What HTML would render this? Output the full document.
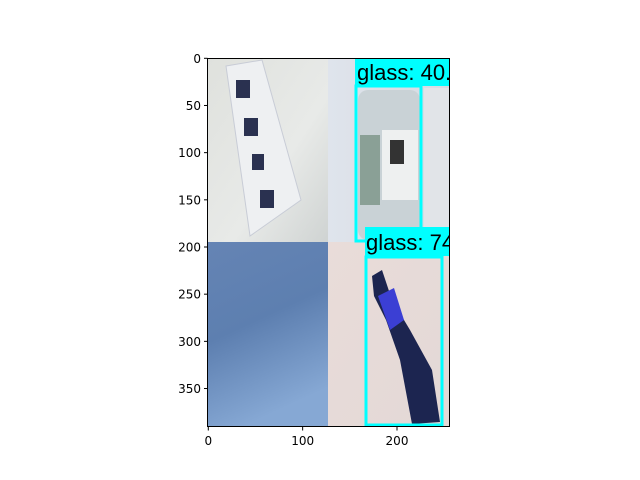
<!DOCTYPE html>
<html><head><meta charset="utf-8"><style>
html,body{margin:0;padding:0;background:#fff;}
svg{display:block;font-family:"DejaVu Sans","Liberation Sans",sans-serif;}
.lbl{font-family:"Liberation Sans",Arial,sans-serif;}
</style></head><body>
<svg width="640" height="480" viewBox="0 0 640 480">
<defs>
<clipPath id="ax"><rect x="208" y="58" width="241.5" height="368.5"/></clipPath>
<linearGradient id="gTL" x1="0" y1="0" x2="1" y2="1"><stop offset="0" stop-color="#dfe1dd"/><stop offset="0.6" stop-color="#e8eae8"/><stop offset="1" stop-color="#cfd3d2"/></linearGradient>
<linearGradient id="gTR" x1="0" y1="0" x2="1" y2="0"><stop offset="0" stop-color="#dfe4ec"/><stop offset="1" stop-color="#d6dbe2"/></linearGradient>
<linearGradient id="gBL" x1="0" y1="0" x2="0.3" y2="1"><stop offset="0" stop-color="#6584b4"/><stop offset="0.5" stop-color="#5d7fb0"/><stop offset="1" stop-color="#86a8d4"/></linearGradient>
<linearGradient id="gBR" x1="0" y1="0" x2="1" y2="1"><stop offset="0" stop-color="#e9dcd9"/><stop offset="1" stop-color="#e3d8d6"/></linearGradient>
</defs>
<g clip-path="url(#ax)">
<g>
<rect x="208" y="58" width="120" height="184" fill="url(#gTL)"/>
<polygon points="226,66 262,60 301,200 250,236" fill="#eef0f2" stroke="#c8ccd6"/>
<g fill="#2a3150"><rect x="236" y="80" width="14" height="18"/><rect x="244" y="118" width="14" height="18"/><rect x="252" y="154" width="12" height="16"/><rect x="260" y="190" width="14" height="18"/></g>
<rect x="328" y="58" width="122" height="184" fill="url(#gTR)"/>
<rect x="358" y="90" width="62" height="150" rx="10" fill="#c9d2d6"/>
<rect x="360" y="135" width="20" height="70" fill="#8aa096"/>
<rect x="382" y="130" width="36" height="70" fill="#eef0f0"/>
<rect x="390" y="140" width="14" height="24" fill="#333"/>
<rect x="424" y="88" width="26" height="150" fill="#e1e4e8"/>
<rect x="208" y="242" width="120" height="185" fill="url(#gBL)"/>
<rect x="328" y="242" width="122" height="185" fill="url(#gBR)"/>
<polygon points="372,276 382,270 392,300 410,330 432,370 440,422 412,424 400,360 386,320 374,296" fill="#1c2550"/>
<polygon points="378,296 394,288 404,320 390,330" fill="#3b3fd4"/>
</g>
<g>
<rect x="356" y="86" width="65" height="155" fill="none" stroke="#00ffff" stroke-width="3"/>
<rect x="355" y="58" width="95" height="28" fill="#00ffff"/>
<text class="lbl" x="357" y="80" font-size="22" fill="#000">glass: 40.</text>
</g>
<g>
<rect x="366" y="257" width="76" height="168" fill="none" stroke="#00ffff" stroke-width="3"/>
<rect x="365" y="227" width="85" height="29" fill="#00ffff"/>
<text class="lbl" x="366" y="250" font-size="22" fill="#000">glass: 74</text>
</g>
</g>
<rect x="207.5" y="58.5" width="242" height="368" fill="none" stroke="#000" stroke-width="1"/>
<g id="ticks"></g>
</svg>
<script>
const xTicks=[0,100,200];
const yTicks=[0,50,100,150,200,250,300,350];
const x0=208.3,y0=58.3,s=0.9435;
const NS='http://www.w3.org/2000/svg';
const g=document.getElementById('ticks');
xTicks.forEach(v=>{const x=x0+v*s;
 const l=document.createElementNS(NS,'line');l.setAttribute('x1',x);l.setAttribute('x2',x);l.setAttribute('y1',427);l.setAttribute('y2',430.5);l.setAttribute('stroke','#000');
 
 g.appendChild(l);
 const t=document.createElementNS(NS,'text');t.setAttribute('x',x);t.setAttribute('y',445);t.setAttribute('text-anchor','middle');t.setAttribute('font-size','12');t.textContent=v;
 
 g.appendChild(t);});
yTicks.forEach(v=>{const y=y0+v*s;
 const l=document.createElementNS(NS,'line');l.setAttribute('x1',204);l.setAttribute('x2',207.5);l.setAttribute('y1',y);l.setAttribute('y2',y);l.setAttribute('stroke','#000');
 
 g.appendChild(l);
 const t=document.createElementNS(NS,'text');t.setAttribute('x',201);t.setAttribute('y',y+4.5);t.setAttribute('text-anchor','end');t.setAttribute('font-size','12');t.textContent=v;
 
 g.appendChild(t);});
</script>
</body></html>
